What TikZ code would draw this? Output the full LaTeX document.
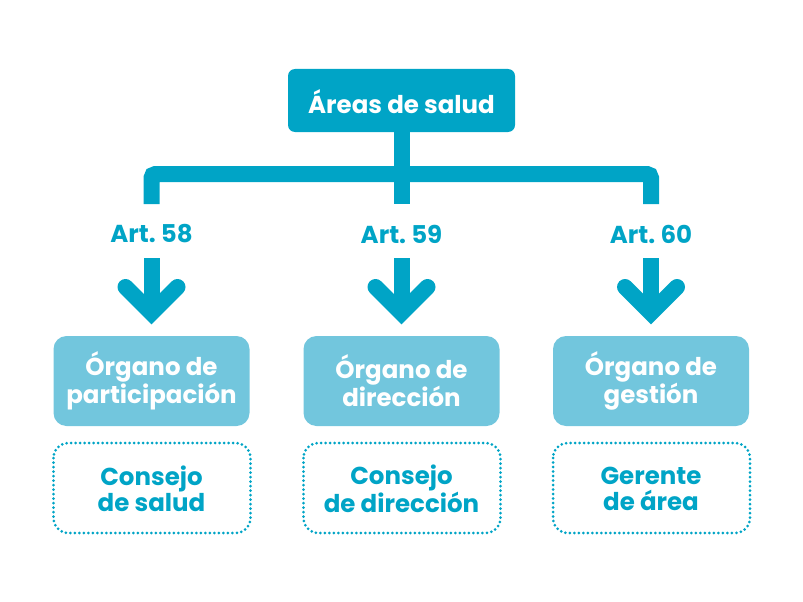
\documentclass[tikz,border=0pt]{standalone}
\usepackage{fontspec}
\setmainfont{Poppins}
\definecolor{teal1}{HTML}{00A4C6}
\definecolor{light1}{HTML}{72C6DD}
\tikzset{
  x=1pt,y=-1pt,
  topfont/.style={text=white,font=\fontsize{24.5}{28}\selectfont\bfseries},
  orgbox/.style={fill=light1,rounded corners=13pt},
  orgtext/.style={text=white,align=center,font=\fontsize{24.5}{25.5}\selectfont\bfseries},
  dotbox/.style={draw=teal1,line width=3pt,dash pattern=on 0pt off 4.5pt,line cap=round,rounded corners=15pt},
  subtext/.style={text=teal1,align=center,font=\fontsize{24.5}{25.5}\selectfont\bfseries},
  artlabel/.style={text=teal1,font=\fontsize{24.5}{26}\selectfont\bfseries},
  bar/.style={draw=teal1,line width=16pt},
  chev/.style={draw=teal1,line width=16pt,line cap=round,miter limit=10},
}
\begin{document}
\begin{tikzpicture}
\useasboundingbox (0,0) rectangle (803,602);
% top box
\path[fill=teal1,rounded corners=7pt] (288,69) rectangle (515,132);
\node[topfont] (top) at (401.5,102) {Áreas de salud};
% connector tree
\coordinate (c1) at (151.5,204);
\coordinate (c2) at (401.5,204);
\coordinate (c3) at (651,204);
\coordinate (tb) at (401.5,131);
\draw[bar] (tb) -- (c2);
\draw[bar,rounded corners=4pt] (c1) -- (151.5,174) -- (651,174) -- (c3);
% columns
\foreach \x/\n/\art/\org/\sub in {151.5/a/58/{Órgano de\\participación}/{Consejo\\de salud},
                                   401.5/b/59/{Órgano de\\dirección}/{Consejo\\de dirección},
                                   651/c/60/{Órgano de\\gestión}/{Gerente\\de área}}{
  \node[artlabel] (art\n) at (\x,234) {Art.~\art};
  \coordinate (s\n) at (\x,258);
  \coordinate (t\n) at (\x,313);
  \coordinate (l\n) at (\x-26,287);
  \coordinate (r\n) at (\x+26,287);
  \draw[bar] (s\n) -- (t\n);
  \draw[chev] (l\n) -- (t\n) -- (r\n);
  \path[orgbox] (\x-98,336) rectangle (\x+98,426);
  \node[orgtext] (o\n) at (\x,381) {\org};
  \path[dotbox] (\x-98,443) rectangle (\x+99,533);
  \node[subtext] (d\n) at (\x,489) {\sub};
}
\end{tikzpicture}
\end{document}
